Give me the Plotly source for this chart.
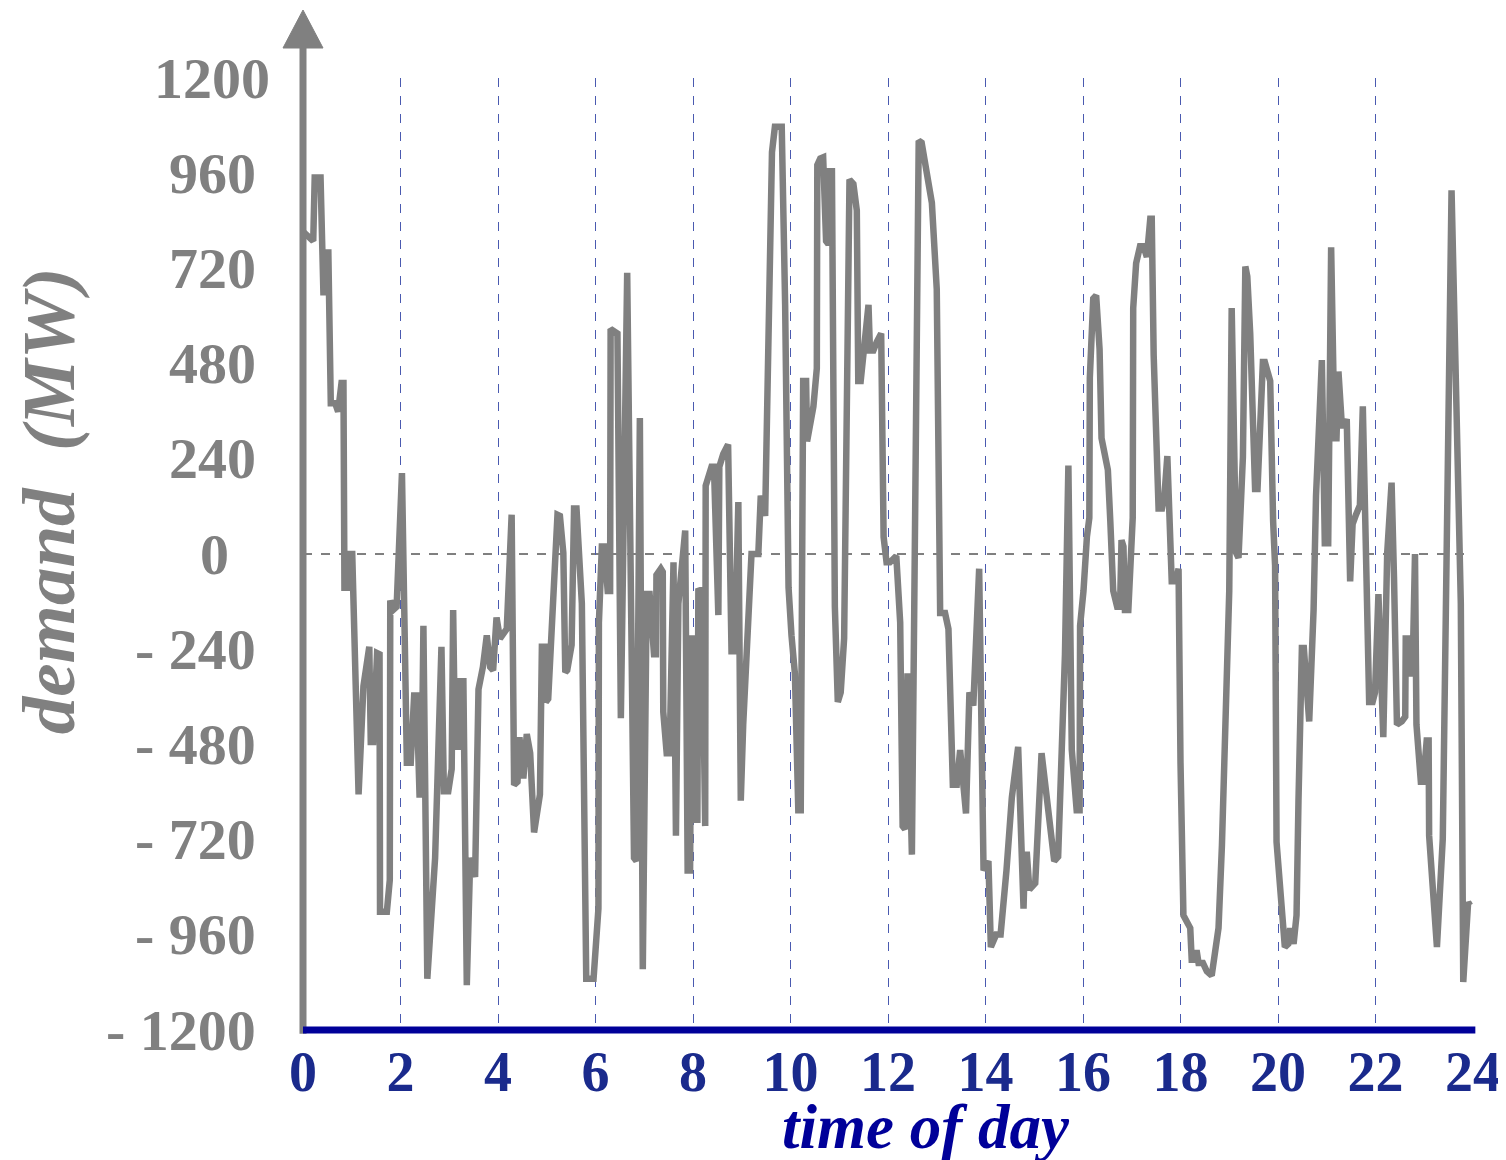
import plotly.graph_objects as go

# ---- data (time of day in hours, demand in MW) ----
t_part1 = [0.00,0.21,0.24,0.36,0.42,0.46,0.52,0.57,0.66,0.72,0.79,0.83,0.85,0.93,0.96,1.01,1.14,1.24,1.36,1.39,1.44,1.52,1.57,1.58,1.72,1.78,1.79,1.85,1.92,2.03,2.13,2.21,2.28,2.33,2.39,2.43,2.47,2.55,2.71,2.84,2.89,2.98,3.05,3.08,3.12,3.19,3.23,3.29,3.36,3.43,3.53,3.60,3.69,3.77,3.84,3.90,3.97,4.04,4.18,4.28,4.33,4.40,4.44,4.49,4.52,4.59,4.66]
v_part1 = [813,789,949,949,652,760,760,380,380,359,431,431,-85,-85,0,0,-606,-333,-234,-474,-474,-250,-253,-902,-902,-822,-117,-141,-133,204,-526,-526,-357,-357,-606,-606,-181,-1071,-766,-234,-598,-598,-542,-141,-486,-486,-321,-321,-1087,-766,-814,-341,-285,-205,-285,-293,-160,-213,-189,99,-582,-574,-462,-566,-566,-454,-502]

t_part2 = [4.74,4.86,4.90,4.96,4.98,5.03,5.22,5.27,5.34,5.38,5.42,5.51,5.56,5.61,5.72,5.81,5.96,6.06,6.07,6.13,6.18,6.25,6.30,6.31,6.45,6.52,6.65,6.79,6.84,6.91,6.97,7.05,7.11,7.15,7.20,7.24,7.25,7.34,7.38,7.39,7.46,7.52,7.60,7.65,7.70,7.84,7.89,7.94,7.97,8.02,8.04,8.09,8.11,8.18,8.25,8.26,8.32,8.38,8.43,8.49,8.52,8.54,8.62,8.72,8.75,8.79,8.86,8.93,8.98,9.03,9.16,9.20,9.34,9.39,9.48,9.58,9.62]
v_part2 = [-702,-606,-234,-234,-373,-365,99,96,3,-298,-293,-229,115,115,-125,-1071,-1071,-894,-173,19,19,-93,-93,567,556,-414,709,-766,-774,343,-1047,-101,-101,-173,-253,-253,-53,-37,-45,-398,-502,-502,-21,-710,-125,59,-798,-798,-213,-213,-670,-670,-93,-90,-686,172,196,220,220,-154,-154,220,252,276,-69,-245,-245,131,-622,-430,-101,0,0,147,96,941,1013]

t_part3 = [9.68,9.82,9.89,9.96,10.02,10.09,10.16,10.21,10.26,10.32,10.34,10.41,10.47,10.54,10.55,10.61,10.67,10.73,10.78,10.80,10.85,10.91,10.97,11.03,11.10,11.21,11.29,11.36,11.39,11.44,11.51,11.60,11.63,11.70,11.77,11.86,11.91,11.97,12.04,12.17,12.25,12.30,12.35,12.38,12.40,12.49,12.58,12.63,12.69,12.76,12.90,13.00,13.07,13.17,13.24,13.33,13.41,13.48,13.60,13.67,13.75,13.87,13.96,14.06,14.11,14.22,14.31,14.43,14.54]
v_part3 = [1077,1077,628,-85,-205,-301,-646,-646,436,436,284,332,372,468,981,997,1000,789,781,965,965,-133,-373,-349,-213,944,933,866,436,436,532,628,513,513,535,556,43,-21,-21,-5,-173,-686,-694,-301,-301,-758,404,1042,1037,981,885,668,-149,-149,-189,-582,-582,-494,-654,-349,-382,-37,-798,-774,-991,-959,-959,-798,-614]

t_part4 = [14.67,14.75,14.78,14.81,14.85,14.90,15.02,15.15,15.26,15.34,15.41,15.49,15.58,15.63,15.70,15.77,15.87,15.93,15.94,16.01,16.08,16.13,16.14,16.21,16.27,16.34,16.38,16.45,16.51,16.56,16.62,16.70,16.76,16.79,16.83,16.86,16.93,17.02,17.03,17.09,17.17,17.24,17.31,17.38,17.41,17.45,17.55,17.62,17.67,17.73,17.79,17.82,17.91,17.96,18.00,18.06,18.13,18.20,18.23,18.30,18.33,18.37,18.46,18.54,18.64,18.71,18.78,18.85,18.91,19.00,19.05,19.14,19.19,19.28,19.33,19.37,19.43,19.53,19.58]
v_part4 = [-486,-894,-894,-758,-758,-846,-830,-502,-606,-686,-774,-763,-446,-253,223,-494,-646,-646,-181,-93,43,91,444,644,652,516,292,244,212,83,-93,-133,-133,35,19,-141,-141,91,620,733,776,776,749,845,845,500,115,115,147,247,3,-69,-69,-37,-526,-911,-927,-943,-1023,-1023,-999,-1031,-1031,-1052,-1063,-991,-943,-734,-446,-93,620,3,-10,244,725,700,556,164,164]

t_part5 = [19.69,19.73,19.84,19.90,19.94,19.97,20.08,20.14,20.21,20.25,20.32,20.38,20.42,20.49,20.53,20.58,20.64,20.73,20.78,20.90,20.96,21.03,21.09,21.16,21.20,21.24,21.31,21.36,21.41,21.48,21.53,21.60,21.68,21.74,21.79,21.83,21.87,21.94,21.99,22.06,22.16,22.24,22.33,22.38,22.44,22.54,22.61,22.62,22.67,22.72,22.76,22.81,22.84,22.93,22.98,23.05,23.09,23.10,23.17,23.26,23.38,23.46,23.53,23.56,23.66,23.75,23.80,23.87,23.90,23.94]
v_part5 = [484,484,436,83,-29,-726,-927,-991,-983,-943,-983,-911,-622,-237,-237,-341,-422,-141,147,489,27,27,773,292,292,460,324,324,340,-69,75,99,123,372,-13,-173,-373,-373,-349,-101,-462,3,180,-61,-430,-422,-410,-213,-213,-301,-301,0,-430,-574,-574,-470,-470,-710,-814,-991,-718,-13,516,917,372,-125,-1079,-943,-878,-886]

time_h = t_part1 + t_part2 + t_part3 + t_part4 + t_part5
demand_mw = v_part1 + v_part2 + v_part3 + v_part4 + v_part5

x_ticks = list(range(0, 25, 2))
y_ticks = [1200, 960, 720, 480, 240, 0, -240, -480, -720, -960, -1200]
y_tick_text = ["1200", "960", "720", "480", "240", "0", "- 240", "- 480", "- 720", "- 960", "- 1200"]

GRAY = "#808080"
NAVY = "#000099"
TICKBLUE = "#1a2a8c"
SERIF = "Liberation Serif"

fig = go.Figure()
fig.add_trace(go.Scatter(x=time_h, y=demand_mw, mode="lines",
                         line=dict(color=GRAY, width=6.5), hoverinfo="skip",
                         showlegend=False))

# label right-edge offsets (pixels left of the y axis)
y_shift = {1200: -31, 0: -72}
annotations = []
for val, txt in zip(y_ticks, y_tick_text):
    annotations.append(dict(x=0, xref="paper", y=val, yref="y", text=txt,
                            showarrow=False, xanchor="right", yanchor="middle",
                            xshift=y_shift.get(val, -45),
                            font=dict(family=SERIF, size=58, color=GRAY, weight="bold")))
annotations.append(dict(x=0.5325, xref="paper", y=-0.102, yref="paper",
                        text="time of day", showarrow=False,
                        xanchor="center", yanchor="middle",
                        font=dict(family=SERIF, size=63, color=NAVY,
                                  weight="bold", style="italic")))
annotations.append(dict(x=-0.2175, xref="paper", y=0.5560, yref="paper",
                        text="demand\u00a0 (MW)", showarrow=False, textangle=-90,
                        xanchor="center", yanchor="middle",
                        font=dict(family=SERIF, size=75, color=GRAY,
                                  weight="bold", style="italic")))

shapes = [
    # zero reference line
    dict(type="line", xref="x", yref="y", x0=0, x1=23.9, y0=0, y1=0,
         line=dict(color="black", width=1, dash="dash"), layer="below"),
    # y axis with arrow
    dict(type="line", xref="paper", yref="paper", x0=0, x1=0, y0=-0.004, y1=1.035,
         line=dict(color=GRAY, width=7)),
    dict(type="path", xref="paper", yref="paper", xsizemode="pixel", xanchor=0,
         path="M -20,1.0315 L 20,1.0315 L 0,1.0714 Z",
         fillcolor=GRAY, line=dict(color=GRAY, width=1)),
    # x axis
    dict(type="line", xref="paper", yref="paper", x0=0, x1=1.002, y0=0, y1=0,
         line=dict(color=NAVY, width=7)),
]

fig.update_layout(
    width=1506, height=1160,
    margin=dict(l=295, r=41, t=70, b=138, autoexpand=False),
    paper_bgcolor="white", plot_bgcolor="white",
    annotations=annotations, shapes=shapes,
    xaxis=dict(range=[0, 24], tickvals=x_ticks, ticktext=[str(v) for v in x_ticks],
               showgrid=True, gridcolor="#4a5ab0", gridwidth=1, griddash="dash",
               zeroline=False, showline=False, ticks="",
               tickfont=dict(family=SERIF, size=56, color=TICKBLUE, weight="bold"),
               ticklabelstandoff=4, automargin=False, fixedrange=True),
    yaxis=dict(range=[-1200, 1200], tickvals=y_ticks, showticklabels=False,
               showgrid=False, zeroline=False, showline=False, ticks="",
               automargin=False, fixedrange=True),
)

fig.write_html("out.html")
